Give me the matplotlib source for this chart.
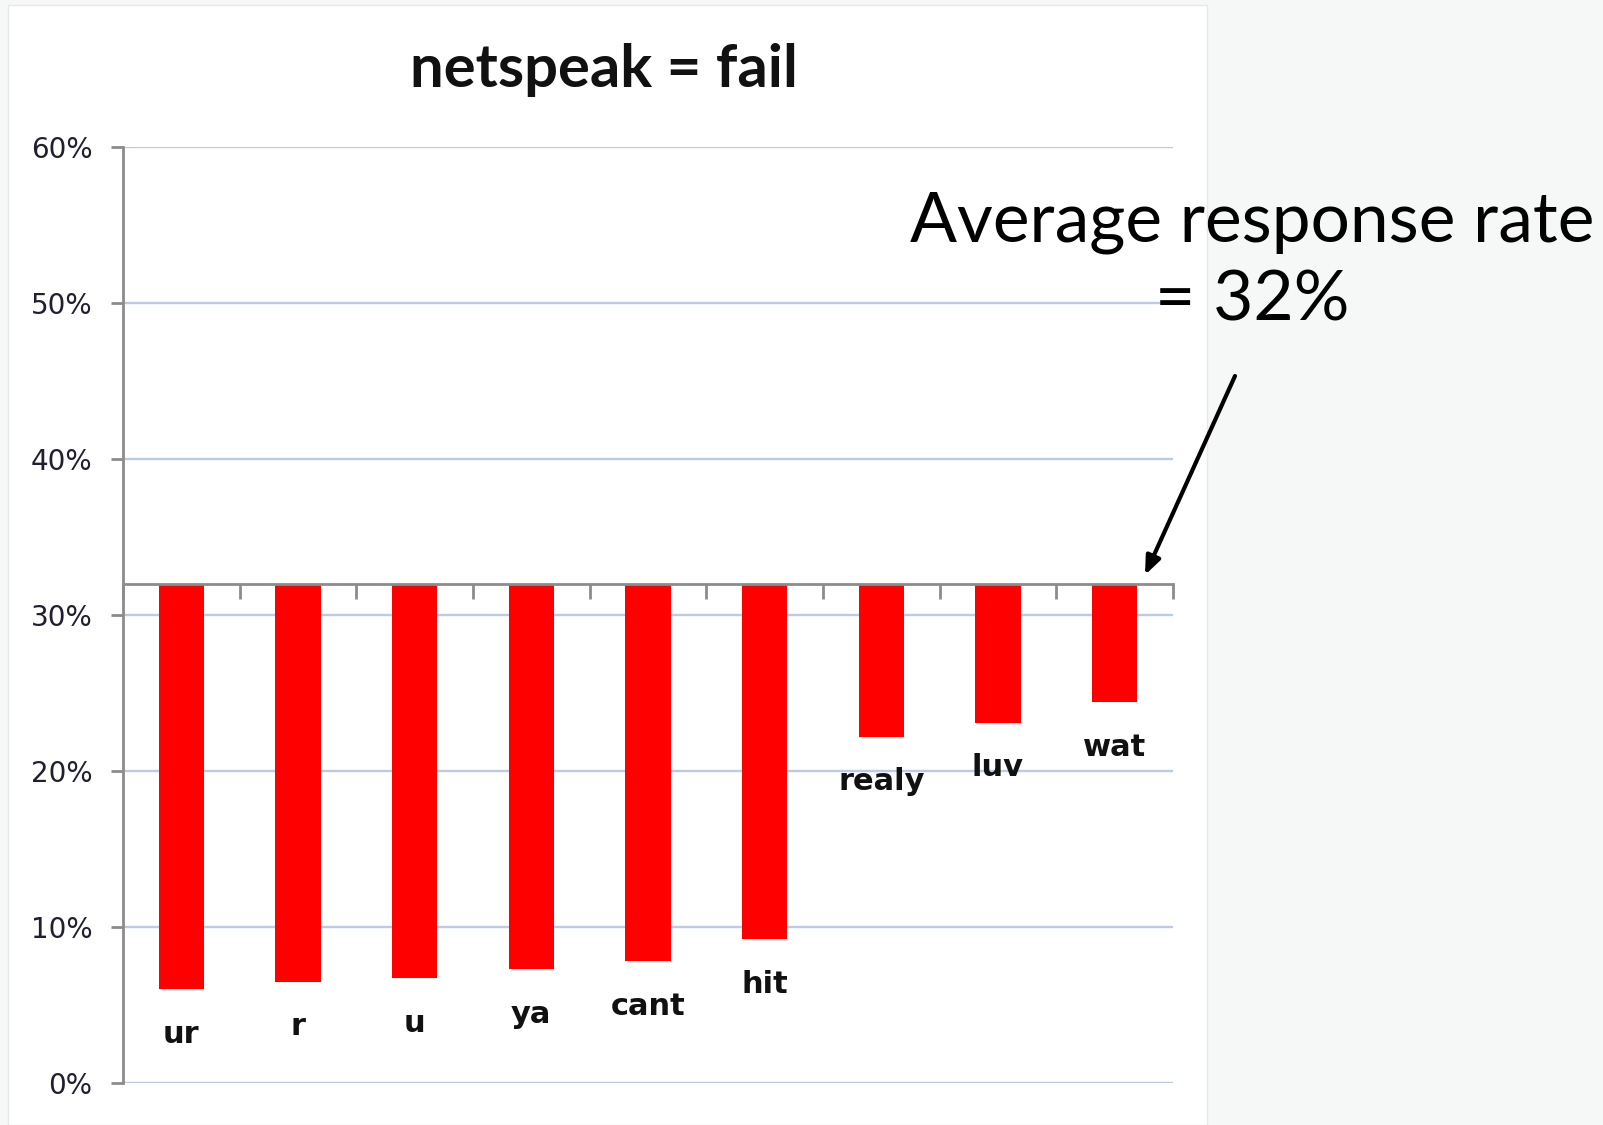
import matplotlib
matplotlib.use("Agg")
import matplotlib.pyplot as plt
from matplotlib.patches import Rectangle, FancyArrowPatch
from matplotlib.ticker import FuncFormatter, FixedLocator

categories = ["ur", "r", "u", "ya", "cant", "hit", "realy", "luv", "wat"]
values = [0.060, 0.065, 0.067, 0.073, 0.078, 0.092, 0.222, 0.231, 0.244]
baseline = 0.32
yticks = [0.0, 0.1, 0.2, 0.3, 0.4, 0.5, 0.6]
title = "netspeak = fail"
note = "Average response rate\n= 32%"

W, H = 1603, 1125
fig = plt.figure(figsize=(W / 100, H / 100), dpi=100)
fig.patch.set_facecolor("#f5f8f7")
fig.patches.append(Rectangle((8 / W, 0), (1207 - 8) / W, 1 - 5 / H,
                             transform=fig.transFigure, facecolor="white",
                             edgecolor="#e6e9e8", lw=1, zorder=-5))

ax = fig.add_axes([123 / W, 1 - 1083 / H, (1173 - 123) / W, (1083 - 147) / H])
ax.set_zorder(2)
ax.set_facecolor("none")
x = list(range(len(categories)))
heights = [v - baseline for v in values]
ax.bar(x, heights, bottom=baseline, width=0.39, color="#ff0000", zorder=3)

ax.set_xlim(-0.5, len(categories) - 0.5)
ax.set_ylim(0, 0.6)
ax.set_yticks(yticks)
ax.yaxis.set_major_formatter(FuncFormatter(lambda v, p: f"{v*100:.0f}%"))
ax.grid(axis="y", color="#bccaea", lw=1.7, zorder=1)
ax.set_axisbelow(True)

for s in ["top", "right"]:
    ax.spines[s].set_visible(False)
ax.spines["left"].set_color("#8c8c8c")
ax.spines["left"].set_linewidth(2)
ax.spines["bottom"].set_position(("data", baseline))
ax.spines["bottom"].set_color("#8c8c8c")
ax.spines["bottom"].set_linewidth(2)
ax.spines["bottom"].set_zorder(4)
ax.xaxis.set_major_locator(FixedLocator([i - 0.5 for i in range(len(categories) + 1)]))
ax.tick_params(axis="x", direction="out", length=11, width=2, color="#8c8c8c",
               labelbottom=False)
ax.tick_params(axis="y", direction="out", length=9, width=2, color="#8c8c8c",
               labelsize=20, labelcolor="#1f1f2f", pad=13)
for lab in ax.get_yticklabels():
    lab.set_fontfamily("DejaVu Sans")

for xi, v, c in zip(x, values, categories):
    ax.annotate(c, (xi, v), xytext=(0, -45), textcoords="offset pixels",
                ha="center", va="center", fontsize=22, fontweight="bold",
                family="DejaVu Sans", color="#111111")

fig.text(604 / W, 1 - 70 / H, title, ha="center", va="center",
         fontsize=43, fontweight="bold", family="Lato", color="#111111")

fig.text(1252 / W, 1 - 262 / H, note, ha="center", va="center",
         fontsize=50, family="Lato", color="black", linespacing=1.3)

fig.add_artist(FancyArrowPatch(
    (1235 / W, 1 - 376 / H), (1145 / W, 1 - 575 / H),
    transform=fig.transFigure, arrowstyle="-|>,head_length=11,head_width=4.5",
    color="black", lw=3, mutation_scale=1.0, shrinkA=0, shrinkB=0))

fig.savefig("out.png", dpi=100, facecolor=fig.get_facecolor())
